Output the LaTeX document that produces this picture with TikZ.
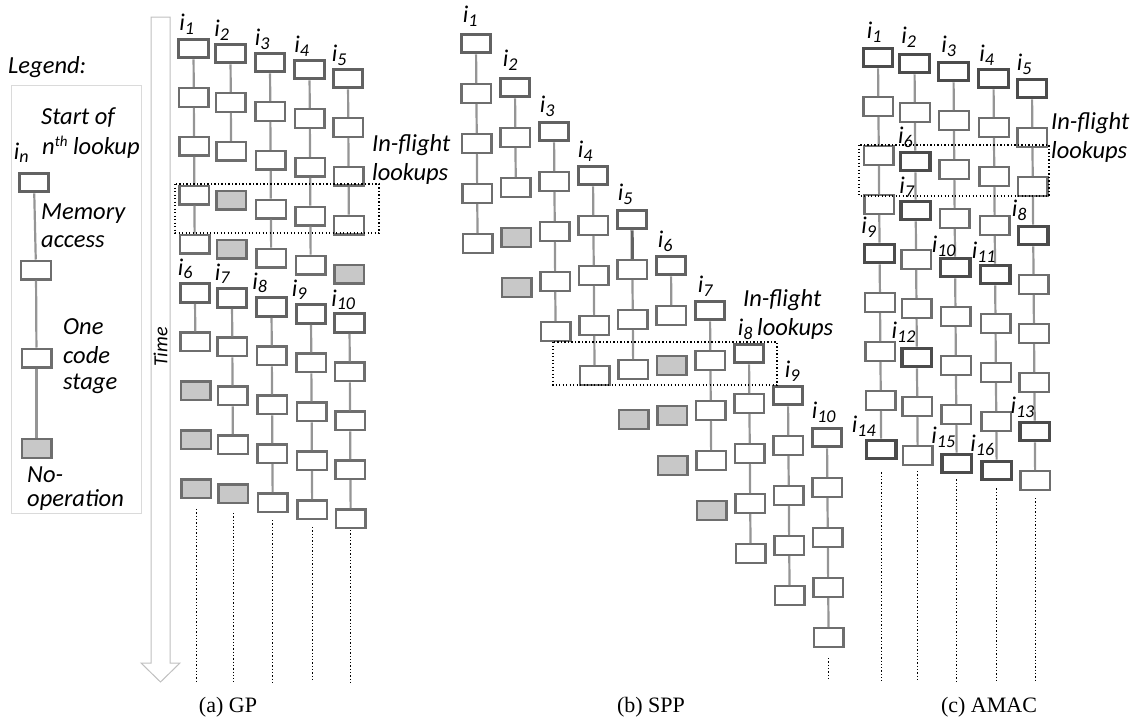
\documentclass[tikz,border=0pt]{standalone}
\usepackage{fontspec}
\setmainfont{Carlito}
\newfontfamily\capfont{Liberation Serif}
\definecolor{boxline}{HTML}{6E6E6E}
\definecolor{startline}{HTML}{626262}
\definecolor{amacline}{HTML}{4C4C4C}
\definecolor{linkline}{HTML}{959595}
\definecolor{nopfill}{HTML}{C8C8C8}
\definecolor{legendline}{HTML}{DADADA}
\definecolor{timeline}{HTML}{C0C0C0}
% lookup label i_n
\newcommand\ilab[1]{i\raisebox{-3.5pt}{\fontsize{18}{18}\selectfont #1}}

\begin{document}
\begin{tikzpicture}[x=1pt,y=-1pt,
  stagebox/.style={draw=boxline, line width=2.4pt, fill=white, minimum width=29.6pt, minimum height=18.6pt, inner sep=0pt},
  kindb/.style={stagebox},
  kinds/.style={stagebox, draw=startline, line width=3.3pt},
  kinda/.style={stagebox, draw=amacline, line width=3.3pt},
  kindn/.style={stagebox, fill=nopfill},
  link/.style={draw=linkline, line width=2.2pt},
  thicklink/.style={draw=startline, line width=3.2pt},
  lbl/.style={inner sep=0pt, font=\fontsize{24}{24}\selectfont\itshape, anchor=south west},
  txt/.style={inner sep=0pt, font=\fontsize{24.5}{28}\selectfont\itshape, anchor=base west},
  window/.style={draw=black, line width=1.3pt, dash pattern=on 1.3pt off 2.2pt},
  trail/.style={draw=black, line width=1.3pt, dash pattern=on 1.3pt off 2pt},
  caption/.style={font=\capfont\fontsize{22}{22}\selectfont, anchor=base, inner sep=0pt}
]
\useasboundingbox (0,0) rectangle (1141,720);

% ---------------- legend ----------------
\node[txt] (legtitle) at (8,73) {Legend:};
\draw[draw=legendline, line width=1pt] (11,85) rectangle (141,513);
\node[kinds] (ls) at (34,182.5) {};
\node[kindb] (lb) at (36,270) {};
\node[kindb] (lc) at (36.5,358) {};
\node[kindn] (ln) at (36.5,448.5) {};
\draw[link] (ls) -- (lb);
\draw[link] (lb) -- (lc);
\draw[link] (lc) -- (ln);
\node[lbl] (lin) at ([xshift=-4pt,yshift=8.5pt]ls.north west) {\ilab{n}};
\node[txt] (lt1) at (41,124) {Start of};
\node[txt] (lt2) at (42,154) {n\raisebox{8pt}{\fontsize{15}{15}\selectfont th} lookup};
\node[txt] (lt3) at (41,219) {Memory};
\node[txt] (lt4) at (41,247) {access};
\node[txt] (lt5) at (63,334) {One};
\node[txt] (lt6) at (63,363) {code};
\node[txt] (lt7) at (63,389) {stage};
\node[txt] (lt8) at (27,482) {No-};
\node[txt] (lt9) at (27,506) {operation};

% ---------------- time arrow ----------------
\draw[draw=timeline, line width=1pt, fill=white]
  (151,17) -- (170,17) -- (170,663) -- (180,663) -- (160.5,682) -- (141,663) -- (151,663) -- cycle;
\node[rotate=90, inner sep=0pt, font=\fontsize{20}{20}\selectfont\itshape] (timelbl) at (160.5,347) {Time};

% ---------------- (a) GP ----------------
\foreach \c/\x/\y/\types in {
  0/193.5/48.5/{s,b,b,b,b,s,b,n,n,n},
  1/230.5/53.5/{s,b,b,n,n,s,b,b,b,n},
  2/270/62.5/{s,b,b,b,b,s,b,b,b,b},
  3/309.5/69.5/{s,b,b,b,b,s,b,b,b,b},
  4/348/78.5/{s,b,b,b,n,s,b,b,b,b}}
{
  \foreach \t [count=\r from 0] in \types
    \node[kind\t] (g\c-\r) at ({\x+0.3*\r},{\y+48.9*\r}) {};
}

% ---------------- (b) SPP ----------------
\foreach \c/\y/\types in {
  0/43.5/{s,b,b,b,b}, 1/87.5/{s,b,b,n,n}, 2/131.5/{s,b,b,b,b},
  3/175.5/{s,b,b,b,b}, 4/219.5/{s,b,b,b,n}, 5/265.5/{s,b,n,n,n},
  6/310.5/{s,b,b,b,n}, 7/353.5/{s,b,b,b,b}, 8/395.5/{s,b,b,b,b},
  9/437.5/{s,b,b,b,b}}
{
  \foreach \t [count=\r from 0] in \types
    \node[kind\t] (s\c-\r) at ({476+39*\c+0.4*\r},{\y+50*\r}) {};
}

% ---------------- (c) AMAC ----------------
\foreach \c/\x/\y/\types in {
  0/878/57.5/{a,b,b,b,a,b,b,b,a},
  1/914.5/63.5/{a,b,a,a,b,b,a,b,b},
  2/953.5/71.5/{a,b,b,b,a,b,b,b,a},
  3/993.5/78.5/{a,b,b,b,a,b,b,b,a},
  4/1032/88.5/{a,b,b,a,b,b,b,a,b}}
{
  \foreach \t [count=\r from 0] in \types
    \node[kind\t] (m\c-\r) at ({\x+0.4*\r},{\y+49*\r}) {};
}

% ---------------- chains of stages ----------------
\foreach \p/\c/\a/\b in {
  g/0/0/4, g/0/5/6, g/1/0/2, g/1/5/8, g/2/0/4, g/2/5/9,
  g/3/0/4, g/3/5/9, g/4/0/3, g/4/5/9,
  s/0/0/4, s/1/0/2, s/2/0/4, s/3/0/4, s/4/1/3, s/5/0/1,
  s/6/0/3, s/7/0/4, s/8/0/4, s/9/0/4,
  m/0/0/8, m/1/0/8, m/2/0/8, m/3/0/8, m/4/0/8}
{
  \pgfmathtruncatemacro\lastr{\b-1}
  \foreach \r in {\a,...,\lastr} {
    \pgfmathtruncatemacro\nextr{\r+1}
    \draw[link] (\p\c-\r) -- (\p\c-\nextr);
  }
}
\draw[thicklink] (s4-0) -- (s4-1);

% ---------------- lookup labels ----------------
\foreach \nm/\n/\dx/\dy in {
  g0-0/1/2pt/3pt, g1-0/2/0pt/2pt, g2-0/3/1pt/2pt, g3-0/4/1pt/2pt, g4-0/5/0pt/2pt,
  g0-5/6/-1pt/3pt, g1-5/7/-1pt/3pt, g2-5/8/-3pt/3pt, g3-5/9/-3pt/3pt, g4-5/10/-2pt/2pt}
  \node[lbl] (gl\n) at ([xshift=\dx,yshift=\dy]\nm.north west) {\ilab{\n}};
\foreach \nm/\n/\dx/\dy in {
  s0-0/1/3pt/6pt, s1-0/2/4pt/6pt, s2-0/3/2pt/4pt, s3-0/4/1pt/3pt, s4-0/5/2pt/4pt,
  s5-0/6/3pt/3pt, s6-0/7/4pt/3pt, s7-0/8/5pt/3pt, s8-0/9/13pt/3pt, s9-0/10/1pt/4pt}
  \node[lbl] (sl\n) at ([xshift=\dx,yshift=\dy]\nm.north west) {\ilab{\n}};
\foreach \nm/\n/\dx/\dy in {
  m0-0/1/5pt/4pt, m1-0/2/3pt/5pt, m2-0/3/4pt/4pt, m3-0/4/2pt/2pt, m4-0/5/1pt/3pt,
  m1-2/6/-1pt/3pt, m1-3/7/0pt/2pt, m4-3/8/-5pt/4pt, m0-4/9/-2pt/5pt,
  m2-4/10/-7pt/0pt, m3-4/11/-7pt/1pt, m1-6/12/-9pt/4pt, m4-7/13/-8pt/3pt,
  m0-8/14/-13pt/2pt, m2-8/15/-9pt/5pt, m3-8/16/-10pt/4pt}
  \node[lbl] (ml\n) at ([xshift=\dx,yshift=\dy]\nm.north west) {\ilab{\n}};

% ---------------- in-flight windows ----------------
\draw[window] (175,184) rectangle (379,233);
\node[txt] (gw1) at (372,151) {In-flight};
\node[txt] (gw2) at (372,180) {lookups};
\draw[window] (553,342) rectangle (777,385);
\node[txt] (sw1) at (743,306) {In-flight};
\node[txt] (sw2) at (757,335) {lookups};
\draw[window] (859,145) rectangle (1049,196);
\node[txt] (mw1) at (1051,129) {In-flight};
\node[txt] (mw2) at (1051,158) {lookups};

% ---------------- continuation dots ----------------
\coordinate (gbot) at (0,682);
\foreach \c/\gap in {0/10pt, 1/9pt, 2/7pt, 3/7pt, 4/1pt}
  \draw[trail] ([yshift=-\gap]g\c-9.south) -- (g\c-9.south |- gbot);
\coordinate (sbot) at (0,678);
\draw[trail] ([yshift=-10pt]s9-4.south) -- (s9-4.south |- sbot);
\coordinate (mbot) at (0,681);
\foreach \c/\gap in {0/12pt, 1/5pt, 2/5pt, 3/7pt, 4/7pt}
  \draw[trail] ([yshift=-\gap]m\c-8.south) -- (m\c-8.south |- mbot);

% ---------------- captions ----------------
\node[caption] (capa) at (228,712) {(a) GP};
\node[caption] (capb) at (651,712) {(b) SPP};
\node[caption] (capc) at (989,712) {(c) AMAC};
\end{tikzpicture}
\end{document}
